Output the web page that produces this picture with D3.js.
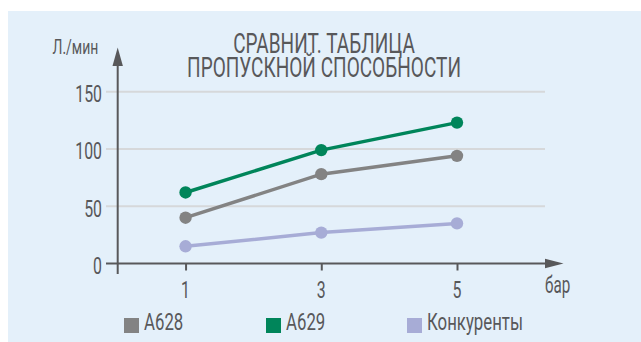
<!DOCTYPE html>
<html>
<head>
<meta charset="utf-8">
<script src="https://cdn.jsdelivr.net/npm/d3@7"></script>
<style>
  html, body { margin: 0; padding: 0; background: #ffffff; }
  svg { display: block; }
  text { font-family: Roboto, "Noto Sans", sans-serif; fill: #58585a; }
</style>
</head>
<body>
<svg id="chart" width="641" height="342"></svg>
<script>
// Flow rate (л/мин) against pressure (бар)
const pressures = [1, 3, 5];
const seriesNames = ["A628", "A629", "Конкуренты"];
const seriesColors = ["#838383", "#00855a", "#a7acd6"];
const flowA628 = [40, 78, 94];
const flowA629 = [62, 99, 123];
const flowRivals = [15, 27, 35];
const yTicks = [0, 50, 100, 150];
const titleLines = ["СРАВНИТ. ТАБЛИЦА", "ПРОПУСКНОЙ СПОСОБНОСТИ"];
const yUnit = "Л./мин";
const xUnit = "бар";

const series = [
  { name: seriesNames[2], color: seriesColors[2], values: flowRivals },
  { name: seriesNames[0], color: seriesColors[0], values: flowA628 },
  { name: seriesNames[1], color: seriesColors[1], values: flowA629 }
];

const svg = d3.select("#chart");
const ink = "#58585a";

// condensed text: scaled horizontally around its anchor point
function label(parent, x, y, str, size, anchor, squeeze) {
  const g = parent.append("g")
    .attr("transform", `translate(${x},${y}) scale(${squeeze},1)`);
  const t = g.append("text")
    .attr("text-anchor", anchor || "start")
    .attr("font-size", size)
    .text(str);
  return t;
}

// panel
svg.append("rect")
  .attr("x", 8).attr("y", 11)
  .attr("width", 633).attr("height", 331)
  .attr("fill", "#e4f0fa");

const x = d3.scaleLinear().domain([0, 5]).range([117.7, 457]);
const y = d3.scaleLinear().domain([0, 150]).range([263.5, 91.7]);

// horizontal grid
svg.append("g").selectAll("line")
  .data(yTicks.filter(d => d > 0))
  .join("line")
  .attr("x1", 106).attr("x2", 545)
  .attr("y1", d => y(d)).attr("y2", d => y(d))
  .attr("stroke", "#d6d8da").attr("stroke-width", 2);

// y tick labels
const yl = svg.append("g");
yTicks.forEach(v => label(yl, 102, y(v) + 10.5, v, 24, "end", 0.66));

// x axis with ticks
const xAxis = d3.axisBottom(x).tickValues(pressures).tickSize(7).tickFormat(d => d);
const gx = svg.append("g")
  .attr("transform", `translate(0,${y(0)})`)
  .call(xAxis);
gx.select(".domain").remove();
gx.selectAll(".tick line").attr("stroke", ink).attr("stroke-width", 2);
gx.selectAll(".tick text").remove();
pressures.forEach(p => label(svg, x(p), 297.5, p, 24, "middle", 0.66));

// axis lines and arrowheads
svg.append("line")
  .attr("x1", 106).attr("x2", 550)
  .attr("y1", y(0)).attr("y2", y(0))
  .attr("stroke", ink).attr("stroke-width", 2);
svg.append("path")
  .attr("d", `M563.5,${y(0)} L545,${y(0) - 4.8} L545,${y(0) + 4.8} Z`)
  .attr("fill", ink);
svg.append("line")
  .attr("x1", x(0)).attr("x2", x(0))
  .attr("y1", 274).attr("y2", 60)
  .attr("stroke", ink).attr("stroke-width", 2);
svg.append("path")
  .attr("d", `M${x(0)},47.5 L${x(0) - 5.2},66 L${x(0) + 5.2},66 Z`)
  .attr("fill", ink);

// units
label(svg, 52.5, 53.5, yUnit, 20, "start", 0.7);
label(svg, 545, 293, xUnit, 23, "start", 0.66);

// title, two lines in one text block
const title = label(svg, 324, 53, "", 28, "middle", 0.68).text(null);
title.selectAll("tspan")
  .data(titleLines)
  .join("tspan")
  .attr("x", 0)
  .attr("y", (d, i) => i * 24)
  .text(d => d);

// series lines and markers
const line = d3.line()
  .x((d, i) => x(pressures[i]))
  .y(d => y(d));

const sg = svg.append("g").selectAll("g")
  .data(series)
  .join("g");
sg.append("path")
  .attr("d", d => line(d.values))
  .attr("fill", "none")
  .attr("stroke", d => d.color)
  .attr("stroke-width", 3.5);
sg.selectAll("circle")
  .data(d => d.values.map((v, i) => ({ v, i, color: d.color })))
  .join("circle")
  .attr("cx", d => x(pressures[d.i]))
  .attr("cy", d => y(d.v))
  .attr("r", 6.2)
  .attr("fill", d => d.color);

// legend
const legendX = [124, 266, 407];
const legend = [
  { name: seriesNames[0], color: seriesColors[0] },
  { name: seriesNames[1], color: seriesColors[1] },
  { name: seriesNames[2], color: seriesColors[2] }
];
legend.forEach((d, i) => {
  svg.append("rect")
    .attr("x", legendX[i]).attr("y", 318)
    .attr("width", 15).attr("height", 15)
    .attr("fill", d.color);
  label(svg, legendX[i] + 20, 330, d.name, 24, "start", 0.7);
});
</script>
</body>
</html>
